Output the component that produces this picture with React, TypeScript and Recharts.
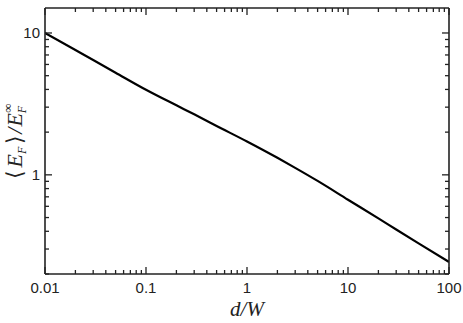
import React from "react";
import { LineChart, Line, XAxis, YAxis } from "recharts";

const X_VALUES = [0.01, 0.02, 0.03, 0.05, 0.1, 0.2, 0.3, 0.5, 1, 2, 3, 5, 10, 20, 30, 50, 100];
const Y_VALUES = [10, 7.58, 6.45, 5.25, 3.98, 3.09, 2.67, 2.21, 1.718, 1.318, 1.12, 0.906, 0.668, 0.493, 0.412, 0.329, 0.243];

const X_MAJOR = [0.01, 0.1, 1, 10, 100];
const X_LABELS = ["0.01", "0.1", "1", "10", "100"];
const Y_MAJOR = [1, 10];
const Y_LABELS = ["1", "10"];
const MINOR_MULT = [2, 3, 4, 5, 6, 7, 8, 9];
const X_DOMAIN = [0.01, 100];
const Y_DOMAIN = [0.2, 15];

const data = X_VALUES.map((x, i) => ({ x, y: Y_VALUES[i] }));

const near = (a: number, b: number) => Math.abs(Math.log10(a) - Math.log10(b)) < 1e-6;
const inDom = (v: number, d: number[]) => v >= d[0] * 0.9999 && v <= d[1] * 1.0001;

const buildTicks = (majors: number[], dom: number[]) => {
  const t: number[] = [];
  const lo = Math.floor(Math.log10(dom[0]));
  const hi = Math.ceil(Math.log10(dom[1]));
  for (let e = lo; e <= hi; e++) {
    const base = Math.pow(10, e);
    if (inDom(base, dom)) t.push(base);
    MINOR_MULT.forEach((m) => {
      const v = +(m * base).toPrecision(6);
      if (inDom(v, dom)) t.push(v);
    });
  }
  majors.forEach((m) => { if (!t.some((v) => near(v, m))) t.push(m); });
  return t.sort((a, b) => a - b);
};

const X_TICKS = buildTicks(X_MAJOR, X_DOMAIN);
const Y_TICKS = buildTicks(Y_MAJOR, Y_DOMAIN);

const INK = "#222";
const TICK_FONT = "'Liberation Sans', Arial, sans-serif";
const SERIF = "'Liberation Serif', 'Times New Roman', serif";

const majorIdx = (v: number, majors: number[]) => majors.findIndex((m) => near(m, v));

const XTick = (props: any) => {
  const { x, y, payload, top } = props;
  const idx = majorIdx(payload.value, X_MAJOR);
  const len = idx >= 0 ? 7 : 4;
  const dir = top ? 1 : -1;
  return (
    <g>
      <line x1={x} x2={x} y1={y} y2={y + dir * len} stroke={INK} strokeWidth={1.3} />
      {!top && idx >= 0 && (
        <text x={x} y={y + 19} textAnchor="middle" fontFamily={TICK_FONT} fontSize={15} fill={INK}>
          {X_LABELS[idx]}
        </text>
      )}
    </g>
  );
};

const YTick = (props: any) => {
  const { x, y, payload, right } = props;
  const idx = majorIdx(payload.value, Y_MAJOR);
  const len = idx >= 0 ? 7 : 4;
  const dir = right ? -1 : 1;
  return (
    <g>
      <line x1={x} x2={x + dir * len} y1={y} y2={y} stroke={INK} strokeWidth={1.3} />
      {!right && idx >= 0 && (
        <text x={x - 5} y={y} dy="0.36em" textAnchor="end" fontFamily={TICK_FONT} fontSize={15} fill={INK}>
          {Y_LABELS[idx]}
        </text>
      )}
    </g>
  );
};

const axisLine = { stroke: INK, strokeWidth: 1.6 };

export default function App() {
  return (
    <div style={{ position: "absolute", left: 0, top: 0, width: 463, height: 323, background: "#fff" }}>
      <LineChart width={463} height={323} data={data} margin={{ top: 7, right: 13, bottom: 48, left: 44 }}>
        <XAxis
          xAxisId="bottom"
          dataKey="x"
          type="number"
          scale="log"
          domain={X_DOMAIN}
          ticks={X_TICKS}
          interval={0}
          height={1}
          tickSize={0}
          tickMargin={0}
          tickLine={false}
          axisLine={axisLine}
          tick={<XTick />}
          allowDataOverflow
        />
        <XAxis
          xAxisId="top"
          orientation="top"
          dataKey="x"
          type="number"
          scale="log"
          domain={X_DOMAIN}
          ticks={X_TICKS}
          interval={0}
          height={1}
          tickSize={0}
          tickMargin={0}
          tickLine={false}
          axisLine={axisLine}
          tick={<XTick top />}
          allowDataOverflow
        />
        <YAxis
          yAxisId="left"
          type="number"
          scale="log"
          domain={Y_DOMAIN}
          ticks={Y_TICKS}
          interval={0}
          width={1}
          tickSize={0}
          tickMargin={0}
          tickLine={false}
          axisLine={axisLine}
          tick={<YTick />}
          allowDataOverflow
        />
        <YAxis
          yAxisId="right"
          orientation="right"
          type="number"
          scale="log"
          domain={Y_DOMAIN}
          ticks={Y_TICKS}
          interval={0}
          width={1}
          tickSize={0}
          tickMargin={0}
          tickLine={false}
          axisLine={axisLine}
          tick={<YTick right />}
          allowDataOverflow
        />
        <Line
          xAxisId="top"
          yAxisId="right"
          dataKey="y"
          stroke="none"
          dot={false}
          activeDot={false}
          isAnimationActive={false}
        />
        <Line
          xAxisId="bottom"
          yAxisId="left"
          type="monotone"
          dataKey="y"
          stroke="#000"
          strokeWidth={2.2}
          dot={false}
          activeDot={false}
          isAnimationActive={false}
        />
        <text x={247} y={316} textAnchor="middle" fontFamily={SERIF} fontStyle="italic" fontSize={21} fill={INK}>
          d/W
        </text>
        <text
          x={0}
          y={0}
          transform="translate(22 141) rotate(-90)"
          textAnchor="middle"
          fontFamily={SERIF}
          fontSize={22}
          fill={INK}
        >
          <tspan>⟨</tspan>
          <tspan fontStyle="italic" dx={2}>E</tspan>
          <tspan fontStyle="italic" fontSize={12} dy={4}>F</tspan>
          <tspan dy={-4} dx={3}>⟩</tspan>
          <tspan fontStyle="italic" dx={1}>/</tspan>
          <tspan fontStyle="italic" dx={1}>E</tspan>
          <tspan fontStyle="italic" fontSize={12} dy={4}>F</tspan>
          <tspan fontSize={13} dx={-7} dy={-14}>∞</tspan>
        </text>
      </LineChart>
    </div>
  );
}
